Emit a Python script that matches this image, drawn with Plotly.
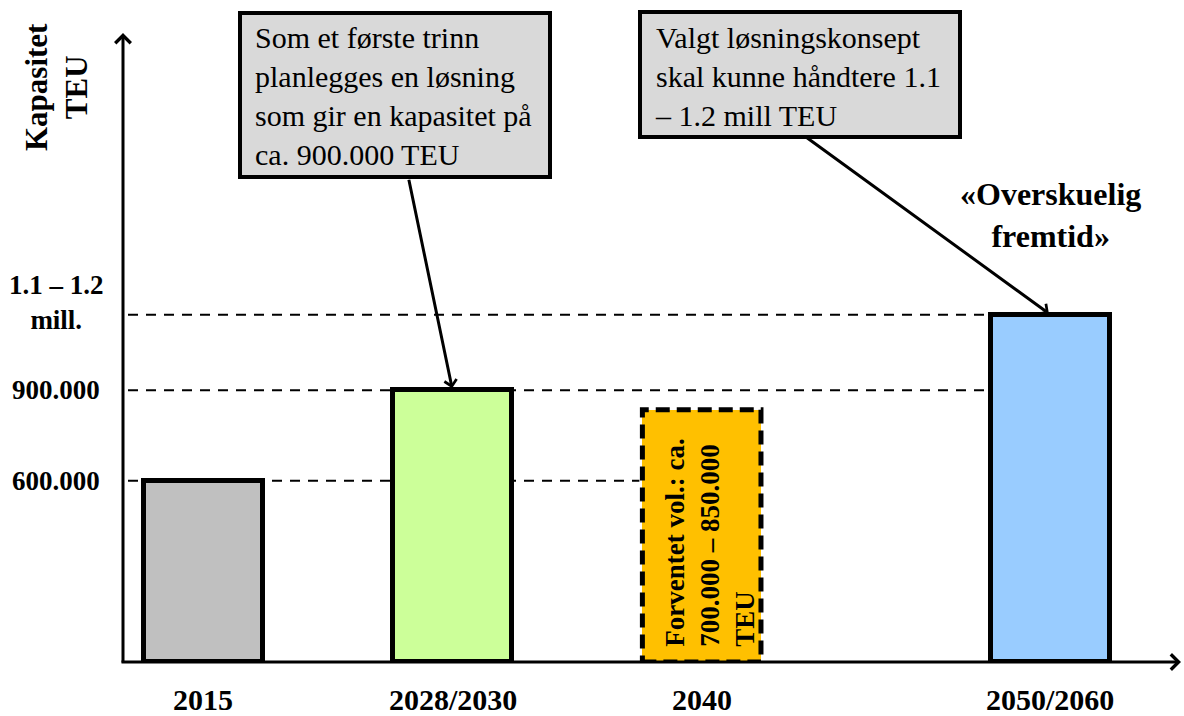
import itertools
import plotly.graph_objects as go

# ---------------- data ----------------
CATEGORIES = ["2015", "2028/2030", "2040", "2050/2060"]
CAPACITY_TEU = [600000, 900000, 835000, 1150000]
Y_TICK_VALUES = [600000, 900000, 1150000]
Y_TICK_LABELS = ["600.000", "900.000", "1.1 – 1.2<br>mill."]
REF_LINE_VALUES = [600000, 900000, 1150000]
REF_LINE_TARGETS = ["2040", "2050/2060", "2050/2060"]
Y_TITLE = "Kapasitet<br>TEU"
BAR_2040_TEXT = "Forventet vol.: ca.<br>700.000 – 850.000<br>TEU"
CALLOUT_1 = "Som et første trinn<br>planlegges en løsning<br>som gir en kapasitet på<br>ca. 900.000 TEU"
CALLOUT_2 = "Valgt løsningskonsept<br>skal kunne håndtere 1.1<br>– 1.2 mill TEU"
FUTURE_TEXT = "«Overskuelig<br>fremtid»"

# ---------------- styles / layout ----------------
BAR_COLORS = ["#c0c0c0", "#ccff99", "#ffc000", "#99ccff"]
BAR_LINE_WIDTHS = [5, 5, 0, 5]
DASHED_BAR = "2040"
# schematic time axis: step (in slots) from previous category
SLOT_STEPS = [0, 5, 5, 7]
BAR_WIDTH = 2.38
FONT = "Liberation Serif, Times New Roman, serif"

W, H = 1184, 716
ML, MR, MT, MB = 123, 0, 0, 54
PW, PH = W - ML - MR, H - MT - MB
X_RANGE = [-1.614, 19.68]
Y_RANGE = [0, 2192000]
UNIT_PX = PW / (X_RANGE[1] - X_RANGE[0])


def px(xp):
    return (xp - ML) / PW


def py(yp):
    return (MT + PH - yp) / PH


xpos = list(itertools.accumulate(SLOT_STEPS))
XPOS = dict(zip(CATEGORIES, xpos))

fig = go.Figure()
fig.add_trace(go.Bar(
    x=xpos, y=CAPACITY_TEU, width=BAR_WIDTH,
    marker=dict(color=BAR_COLORS, line=dict(color="black", width=BAR_LINE_WIDTHS)),
    hoverinfo="skip", showlegend=False,
))

shapes = []
# dashed reference lines (behind bars)
for val, tgt in zip(REF_LINE_VALUES, REF_LINE_TARGETS):
    shapes.append(dict(
        type="line", xref="x", yref="y", layer="below",
        x0=X_RANGE[0] + 5 / UNIT_PX, x1=XPOS[tgt] - BAR_WIDTH / 2 - 3 / UNIT_PX,
        y0=val, y1=val, line=dict(color="black", width=2, dash="10px,8px"),
    ))
# dashed outline of the 2040 bar
i40 = CATEGORIES.index(DASHED_BAR)
shapes.append(dict(
    type="rect", xref="x", yref="y", layer="above",
    x0=xpos[i40] - BAR_WIDTH / 2, x1=xpos[i40] + BAR_WIDTH / 2,
    y0=0, y1=CAPACITY_TEU[i40],
    line=dict(color="black", width=5, dash="14px,7px"), fillcolor="rgba(0,0,0,0)",
))
# callout boxes
shapes.append(dict(type="rect", xref="paper", yref="paper", layer="above",
                   x0=px(240), x1=px(550), y0=py(177), y1=py(13),
                   fillcolor="#d9d9d9", line=dict(color="black", width=4)))
shapes.append(dict(type="rect", xref="paper", yref="paper", layer="above",
                   x0=px(640), x1=px(960), y0=py(137), y1=py(12),
                   fillcolor="#d9d9d9", line=dict(color="black", width=4)))

ann = []
# axes with arrows
ann.append(dict(xref="paper", yref="paper", x=0, y=py(33), ax=0, ay=664 - 33,
                text="", showarrow=True,
                arrowhead=4, arrowsize=1, arrowwidth=3, arrowcolor="black"))
ann.append(dict(xref="paper", yref="paper", x=px(1181), y=0, ax=120 - 1181, ay=0,
                text="", showarrow=True,
                arrowhead=4, arrowsize=1, arrowwidth=3, arrowcolor="black"))
# y title
ann.append(dict(xref="paper", yref="paper", x=px(57), y=py(87), text="<b>" + Y_TITLE + "</b>",
                textangle=-90, showarrow=False, align="center",
                xanchor="center", yanchor="middle",
                font=dict(family=FONT, size=31, color="black")))
# y tick labels
for v, lab in zip(Y_TICK_VALUES, Y_TICK_LABELS):
    ann.append(dict(xref="paper", yref="y", x=0, y=v, xshift=-67,
                    yshift=12 if "<br>" in lab else 0,
                    text="<b>" + lab + "</b>", showarrow=False, align="center",
                    xanchor="center", yanchor="middle",
                    font=dict(family=FONT, size=27, color="black")))
# category labels
for xp, c in zip(xpos, CATEGORIES):
    ann.append(dict(xref="x", yref="paper", x=xp, y=0, yshift=-37,
                    text="<b>" + c + "</b>", showarrow=False,
                    xanchor="center", yanchor="middle",
                    font=dict(family=FONT, size=30, color="black")))
# text inside 2040 bar
ann.append(dict(xref="x", yref="y", x=xpos[i40], y=0, xshift=8, yshift=13,
                text="<b>" + BAR_2040_TEXT + "</b>", textangle=-90, showarrow=False,
                align="left", xanchor="center", yanchor="bottom",
                font=dict(family=FONT, size=27, color="black")))
# callout texts
ann.append(dict(xref="paper", yref="paper", x=px(253), y=py(96), text=CALLOUT_1,
                showarrow=False, align="left", xanchor="left", yanchor="middle",
                font=dict(family=FONT, size=30, color="black")))
ann.append(dict(xref="paper", yref="paper", x=px(653), y=py(77), text=CALLOUT_2,
                showarrow=False, align="left", xanchor="left", yanchor="middle",
                font=dict(family=FONT, size=30, color="black")))
# callout arrows
i28 = CATEGORIES.index("2028/2030")
i50 = CATEGORIES.index("2050/2060")
ann.append(dict(xref="x", yref="y", x=xpos[i28], y=CAPACITY_TEU[i28], ax=-44, ay=-212,
                text="", showarrow=True, arrowhead=4, arrowsize=0.8, arrowwidth=3,
                arrowcolor="black", standoff=2))
ann.append(dict(xref="x", yref="y", x=xpos[i50], y=CAPACITY_TEU[i50], ax=-245, ay=-178,
                text="", showarrow=True, arrowhead=4, arrowsize=0.8, arrowwidth=3,
                arrowcolor="black", standoff=2))
# future label
ann.append(dict(xref="x", yref="paper", x=xpos[i50], y=py(215),
                text="<b>" + FUTURE_TEXT + "</b>", showarrow=False, align="center",
                xanchor="center", yanchor="middle",
                font=dict(family=FONT, size=32, color="black")))

fig.update_layout(
    width=W, height=H, margin=dict(l=ML, r=MR, t=MT, b=MB),
    paper_bgcolor="white", plot_bgcolor="white",
    xaxis=dict(range=X_RANGE, visible=False, fixedrange=True),
    yaxis=dict(range=Y_RANGE, visible=False, fixedrange=True),
    shapes=shapes, annotations=ann, showlegend=False, bargap=0,
)

fig.write_html("out.html", config={"displayModeBar": False},
               post_script="document.body.style.margin='0';document.body.style.overflow='hidden';")
